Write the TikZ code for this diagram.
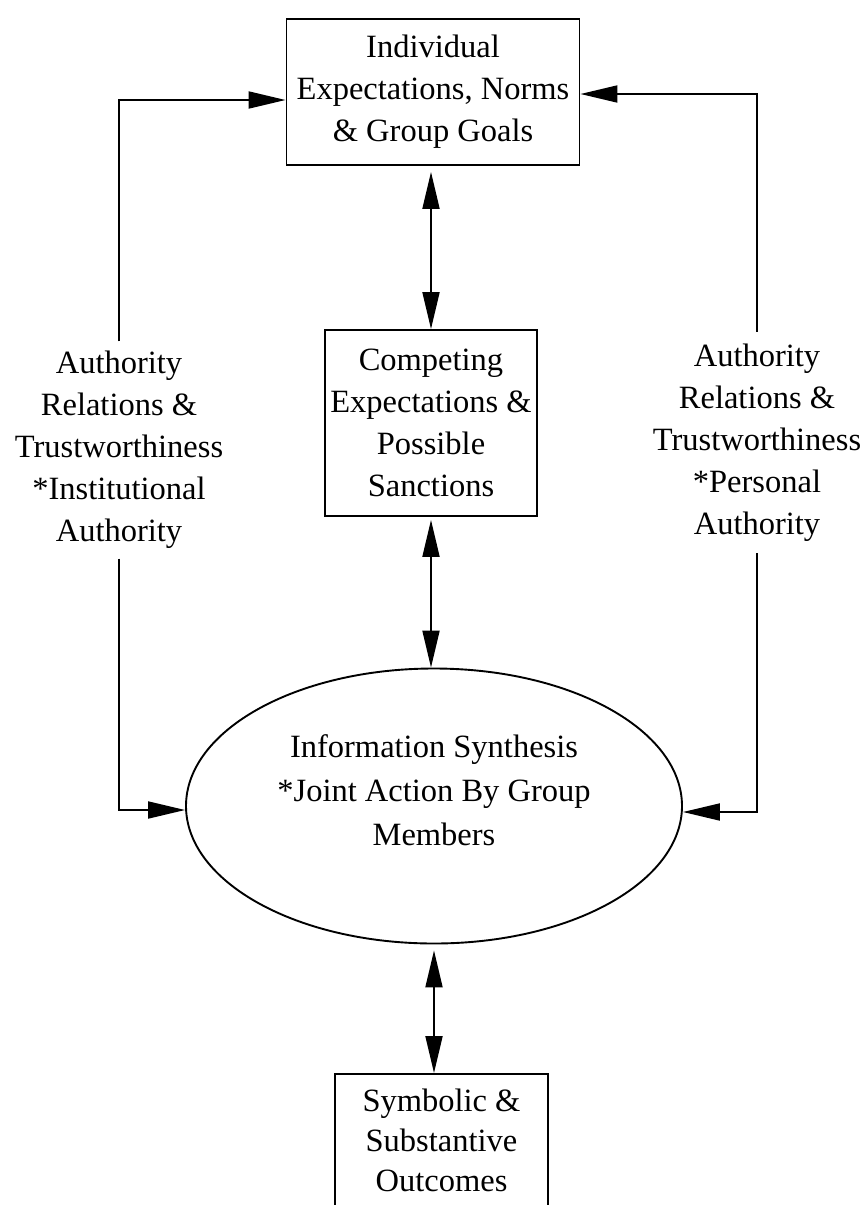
\documentclass[tikz,border=0pt]{standalone}
\usepackage{fontspec}
\setmainfont{Liberation Serif}
\usetikzlibrary{arrows.meta,shapes.geometric}
\begin{document}
\begin{tikzpicture}[x=1pt,y=-1pt,
  >={Triangle[length=37pt,width=17pt]},
  conn/.style={line width=1.9pt},
  lbl/.style={font=\fontsize{32.5pt}{42pt}\selectfont, align=center},
  box/.style={lbl, draw, line width=1.9pt, inner sep=0pt}]
\useasboundingbox (0,0) rectangle (865,1205);
\clip (0,0) rectangle (865,1205);
\node[box, minimum width=293pt, minimum height=146pt] (top) at (433,92)
  {Individual\\Expectations, Norms\\\& Group Goals};
\node[box, minimum width=212pt, minimum height=186pt] (mid) at (431,423)
  {Competing\\Expectations \&\\Possible\\Sanctions};
\node[draw, ellipse, line width=1.9pt, minimum width=496pt, minimum height=275pt, inner sep=0pt] (synth) at (434,806) {};
\node[lbl, font=\fontsize{32.5pt}{44pt}\selectfont] (synthtext) at (434,790)
  {Information Synthesis\\*Joint Action By Group\\Members};
\node[box, font=\fontsize{32.5pt}{40pt}\selectfont, anchor=north, minimum width=213pt, inner xsep=0pt, inner ysep=15pt] (outbox) at (441.5,1073)
  {Symbolic \&\\Substantive\\Outcomes};
\node[lbl, inner sep=0pt, minimum height=217pt] (ltext) at (119,450)
  {Authority\\Relations \&\\Trustworthiness\\*Institutional\\Authority};
\node[lbl, inner sep=0pt, minimum height=221pt] (rtext) at (757,442.5)
  {Authority\\Relations \&\\Trustworthiness\\*Personal\\Authority};
\draw[conn,<->,shorten <=6pt] (top.south -| mid.north) -- (mid.north);
\draw[conn,<->,shorten <=3pt] (mid.south) -- (mid.south |- synth.north);
\draw[conn,<->,shorten <=6pt] (synth.south) -- (synth.south |- outbox.north);
\draw[conn,->] (ltext.north) |- ([yshift=-8pt]top.west);
\draw[conn,->] (rtext.north) |- ([yshift=-2pt]top.east);
\draw[conn,->] (ltext.south) |- ([yshift=-4pt]synth.west);
\draw[conn,->] (rtext.south) |- ([yshift=-6pt]synth.east);
\end{tikzpicture}
\end{document}
